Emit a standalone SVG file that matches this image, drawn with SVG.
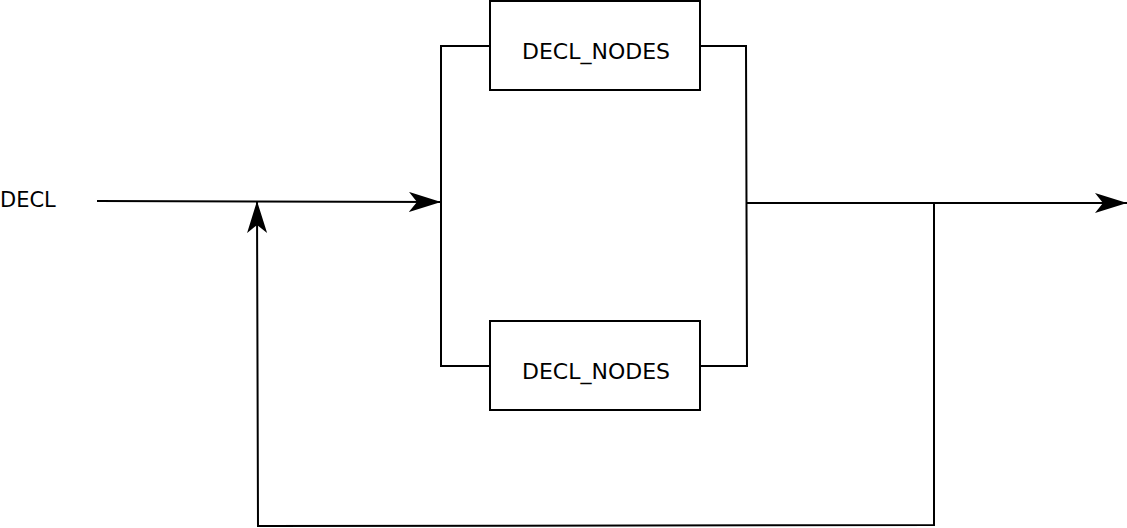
<svg xmlns="http://www.w3.org/2000/svg" width="1127" height="528" viewBox="0 0 1127 528">
<style>
.box{fill:#fff;stroke:#000;stroke-width:2}
.ln{fill:none;stroke:#000;stroke-width:2}
.t{font-family:"DejaVu Sans",sans-serif;font-size:21px;fill:#000}
.n{font-size:22px}
</style>
<defs>
<marker id="arr" markerUnits="userSpaceOnUse" markerWidth="34" markerHeight="22" refX="32" refY="10" orient="auto" viewBox="0 0 34 22">
<path d="M0,0 L32,10 L0,20 L8,10 Z" fill="#000"/>
</marker>
</defs>
<rect width="1127" height="528" fill="#fff"/>
<g id="connectors">
<path class="ln" d="M490,46 H441 V366 H490"/>
<path class="ln" d="M700,46 H746 L747,366 H700"/>
<path class="ln" d="M97,201 L441,202" marker-end="url(#arr)"/>
<path class="ln" d="M747,203 H1127" marker-end="url(#arr)"/>
<path class="ln" d="M934,203 V525 L258,526 L257,201" marker-end="url(#arr)"/>
</g>
<g id="label-decl"><text class="t" x="0" y="207">DECL</text></g>
<g id="node-top"><rect class="box" x="490" y="1" width="210" height="89"/><text class="t n" x="596" y="59" text-anchor="middle">DECL_NODES</text></g>
<g id="node-bottom"><rect class="box" x="490" y="321" width="210" height="89"/><text class="t n" x="596" y="379" text-anchor="middle">DECL_NODES</text></g>
</svg>
